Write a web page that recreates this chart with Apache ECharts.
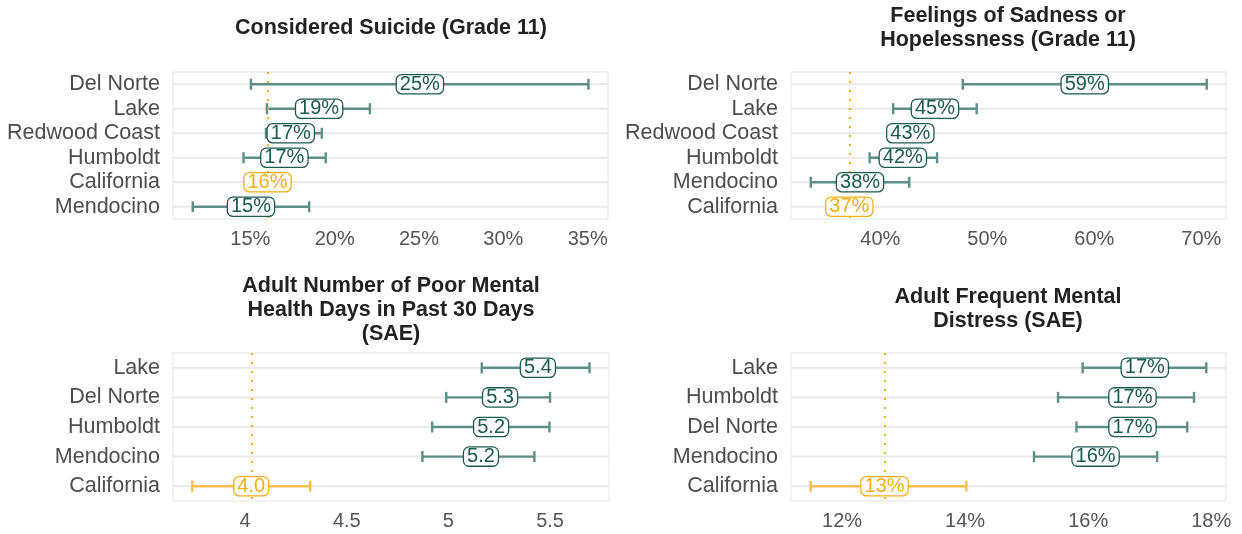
<!DOCTYPE html>
<html lang="en">

<head>
    <meta charset="UTF-8">
    <title>Mental health indicators</title>
    <script src="https://cdn.jsdelivr.net/npm/echarts@6/dist/echarts.min.js"></script>
    <style>
        html, body { margin: 0; padding: 0; background: #fff; }
        #main { width: 1242px; height: 534px; }
    </style>
</head>

<body>
    <div id="main"></div>

    <script>
        // ---- data ----
        // panel 1: considered suicide, grade 11 (%)
        let cats1 = ['Del Norte', 'Lake', 'Redwood Coast', 'Humboldt', 'California', 'Mendocino']
        let val1 = [25.05, 19.08, 17.4, 17.02, 16.02, 15.04]
        let lo1 = [15.04, 15.99, 15.93, 14.6, null, 11.59]
        let hi1 = [35.04, 22.09, 19.24, 19.47, null, 18.49]
        let ticks1 = [15, 20, 25, 30, 35]

        // panel 2: sadness or hopelessness, grade 11 (%)
        let cats2 = ['Del Norte', 'Lake', 'Redwood Coast', 'Humboldt', 'Mendocino', 'California']
        let val2 = [59.1, 45.1, 42.8, 42.1, 38.1, 37.1]
        let lo2 = [47.7, 41.2, null, 39.0, 33.5, null]
        let hi2 = [70.5, 49.0, null, 45.3, 42.7, null]
        let ticks2 = [40, 50, 60, 70]

        // panel 3: poor mental health days (SAE)
        let cats3 = ['Lake', 'Del Norte', 'Humboldt', 'Mendocino', 'California']
        let val3 = [5.44, 5.254, 5.21, 5.16, 4.03]
        let lo3 = [5.164, 4.989, 4.92, 4.872, 3.74]
        let hi3 = [5.694, 5.50, 5.497, 5.423, 4.32]
        let ticks3 = [4, 4.5, 5, 5.5]

        // panel 4: frequent mental distress (SAE, %)
        let cats4 = ['Lake', 'Humboldt', 'Del Norte', 'Mendocino', 'California']
        let val4 = [16.92, 16.72, 16.72, 16.12, 12.69]
        let lo4 = [15.91, 15.51, 15.81, 15.12, 11.49]
        let hi4 = [17.92, 17.72, 17.61, 17.12, 14.02]
        let ticks4 = [12, 14, 16, 18]

        let titles = [
            'Considered Suicide (Grade 11)',
            'Feelings of Sadness or\nHopelessness (Grade 11)',
            'Adult Number of Poor Mental\nHealth Days in Past 30 Days\n(SAE)',
            'Adult Frequent Mental\nDistress (SAE)'
        ]

        // colours
        let teal = '#1a5a51'
        let tealBar = '#5d8e87'
        let orange = '#f4af18'
        let orangeBar = '#f6c04f'
        let font = 'Liberation Sans, Arial, sans-serif'

        let pct = v => Math.round(v) + '%'
        let dec = v => v.toFixed(1)

        let panels = [
            { cats: cats1, val: val1, lo: lo1, hi: hi1, ticks: ticks1, fmt: pct, tick: v => v + '%', min: 10.42, max: 36.2 },
            { cats: cats2, val: val2, lo: lo2, hi: hi2, ticks: ticks2, fmt: pct, tick: v => v + '%', min: 31.65, max: 72.3 },
            { cats: cats3, val: val3, lo: lo3, hi: hi3, ticks: ticks3, fmt: dec, tick: v => String(v), min: 3.645, max: 5.79 },
            { cats: cats4, val: val4, lo: lo4, hi: hi4, ticks: ticks4, fmt: pct, tick: v => v + '%', min: 11.17, max: 18.24 }
        ]

        let grids = [
            { left: 173, top: 72, width: 435, height: 147 },
            { left: 791, top: 72, width: 435, height: 147 },
            { left: 173, top: 353, width: 436, height: 148 },
            { left: 791, top: 353, width: 435, height: 148 }
        ]

        // title centres / first line centre
        let titlePos = [[391, 28], [1008, 16], [391, 286], [1008, 297]]

        // horizontal row lines across the panel
        function renderRow(params, api) {
            let cs = params.coordSys
            let y = api.coord([api.value(0), api.value(1)])[1]
            return {
                type: 'line',
                shape: { x1: cs.x, y1: y, x2: cs.x + cs.width, y2: y },
                style: { stroke: '#e9e9e9', lineWidth: 2 }
            }
        }

        // error bar with caps
        function renderBar(params, api) {
            let lo = api.value(1)
            let hi = api.value(2)
            if (lo == null || hi == null || isNaN(lo) || isNaN(hi)) return
            let a = api.coord([lo, api.value(0)])
            let b = api.coord([hi, api.value(0)])
            let c = api.value(3) ? orangeBar : tealBar
            let st = { stroke: c, lineWidth: 2.4 }
            return {
                type: 'group',
                children: [
                    { type: 'line', shape: { x1: a[0], y1: a[1], x2: b[0], y2: b[1] }, style: st },
                    { type: 'line', shape: { x1: a[0], y1: a[1] - 5.5, x2: a[0], y2: a[1] + 5.5 }, style: st },
                    { type: 'line', shape: { x1: b[0], y1: b[1] - 5.5, x2: b[0], y2: b[1] + 5.5 }, style: st }
                ]
            }
        }

        let myChart = echarts.init(document.getElementById('main'))

        let option = {
            animation: false,
            backgroundColor: '#fff',
            title: [],
            grid: [],
            xAxis: [],
            yAxis: [],
            series: []
        }

        panels.forEach((p, i) => {
            let ca = p.cats.indexOf('California')
            let g = grids[i]

            option.title.push({
                text: titles[i],
                left: titlePos[i][0],
                top: titlePos[i][1] - 12,
                textAlign: 'center',
                padding: 0,
                textStyle: { fontFamily: font, fontSize: 21.5, fontWeight: 'bold', color: '#222', lineHeight: 24 }
            })

            option.grid.push({
                left: g.left, top: g.top, width: g.width, height: g.height,
                show: true, borderColor: '#e0e7e5', borderWidth: 1, backgroundColor: 'transparent'
            })

            option.xAxis.push({
                type: 'value',
                gridIndex: i,
                min: p.min,
                max: p.max,
                axisLine: { show: false },
                axisTick: { show: false },
                splitLine: { show: false },
                axisLabel: {
                    customValues: p.ticks,
                    formatter: p.tick,
                    fontFamily: font,
                    fontSize: 20,
                    color: '#555',
                    margin: 10
                }
            })

            option.yAxis.push({
                type: 'category',
                gridIndex: i,
                data: p.cats,
                inverse: true,
                axisLine: { show: false },
                axisTick: { show: false },
                splitLine: { show: false },
                axisLabel: { interval: 0, fontFamily: font, fontSize: 21.5, color: '#4d4d4d', margin: 13 }
            })

            option.series.push({
                type: 'custom',
                xAxisIndex: i,
                yAxisIndex: i,
                z: 1,
                silent: true,
                renderItem: renderRow,
                encode: { x: 0, y: 1 },
                data: p.cats.map((c, k) => [p.min, k])
            })

            option.series.push({
                type: 'custom',
                xAxisIndex: i,
                yAxisIndex: i,
                z: 2,
                silent: true,
                renderItem: renderBar,
                encode: { x: [1, 2], y: 0 },
                data: p.cats.map((c, k) => [k, p.lo[k], p.hi[k], k === ca ? 1 : 0]),
                markLine: {
                    silent: true,
                    symbol: 'none',
                    z: 3,
                    label: { show: false },
                    lineStyle: { color: orange, type: [2, 7], width: 2, cap: 'butt' },
                    data: [{ xAxis: p.val[ca] }]
                }
            })

            // value labels (the points themselves are invisible)
            option.series.push({
                type: 'scatter',
                xAxisIndex: i,
                yAxisIndex: i,
                z: 10,
                symbolSize: 1,
                itemStyle: { color: 'rgba(0,0,0,0)', opacity: 1 },
                emphasis: { disabled: true },
                label: {
                    show: true,
                    position: 'inside',
                    formatter: q => p.fmt(q.value[0]),
                    fontFamily: font,
                    fontSize: 20,
                    lineHeight: 17,
                    color: teal,
                    backgroundColor: '#fff',
                    borderColor: teal,
                    borderWidth: 1.3,
                    borderRadius: 5,
                    padding: [1, 3, 0, 3]
                },
                labelLayout: { hideOverlap: false },
                data: p.val.map((v, k) => k === ca
                    ? { value: [v, k], label: { color: orange, borderColor: orange } }
                    : { value: [v, k] })
            })
        })

        myChart.setOption(option)
    </script>
</body>

</html>
